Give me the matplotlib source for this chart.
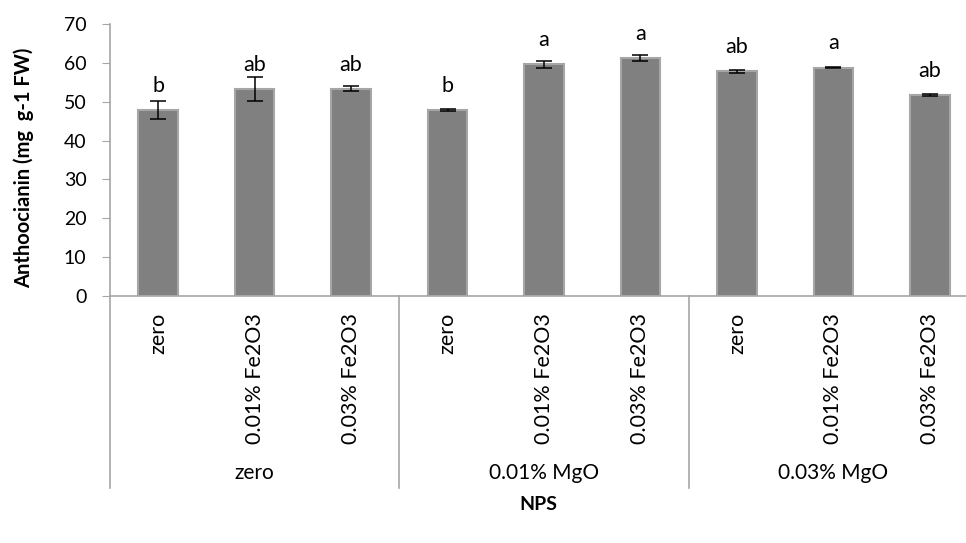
#!/usr/bin/env python3
"""Anthocyanin content under Fe2O3 / MgO nanoparticle treatments."""

import matplotlib.pyplot as plt
from matplotlib.transforms import blended_transform_factory

plt.rcParams['font.family'] = ['Lato', 'DejaVu Sans']

groups = ['zero', '0.01% MgO', '0.03% MgO']
treatments = ['zero', '0.01% Fe2O3', '0.03% Fe2O3']
means = [47.9, 53.3, 53.4, 47.9, 59.7, 61.2, 57.8, 58.8, 51.7]
errors = [2.3, 3.1, 0.6, 0.2, 0.9, 0.8, 0.3, 0.2, 0.2]
letters = ['b', 'ab', 'ab', 'b', 'a', 'a', 'ab', 'a', 'ab']

GRID = '#a6a6a6'

fig = plt.figure(figsize=(9.66, 5.43), dpi=100)
ax = fig.add_axes([110 / 966, 247 / 543, 868 / 966, 272 / 543])

x = list(range(len(means)))
ax.bar(x, means, width=0.41, color='#808080', edgecolor='#a6a6a6',
       linewidth=1.5, zorder=2)
ax.errorbar(x, means, yerr=errors, fmt='none', ecolor='black',
            elinewidth=1.1, capsize=5.5, capthick=1.1, zorder=3)

# letters sit a little above each error bar
gaps = [2.3, 1.6, 3.8, 4.5, 3.8, 4.0, 4.4, 4.6, 4.4]
for xi, m, e, g, lab in zip(x, means, errors, gaps, letters):
    ax.text(xi, m + e + g, lab, ha='center', va='baseline', fontsize=15.5)

ax.set_xlim(-0.5, len(means) - 0.5)
ax.set_ylim(0, 70)
ax.set_yticks(range(0, 71, 10))
ax.tick_params(axis='y', labelsize=14, length=6, color=GRID, pad=11)
ax.set_xticks([])

for side in ('top', 'right'):
    ax.spines[side].set_visible(False)
for side in ('left', 'bottom'):
    ax.spines[side].set_color(GRID)
    ax.spines[side].set_linewidth(1.2)

trans = blended_transform_factory(ax.transData, ax.transAxes)

# inner category labels
for i in x:
    ax.text(i, -0.062, treatments[i % 3], rotation=90, ha='center', va='top',
            fontsize=15.5, transform=trans)

# group dividers and outer labels
for b in range(len(groups) + 1):
    ax.plot([b * 3 - 0.5] * 2, [0, -0.706], color=GRID, linewidth=1.2,
            transform=trans, clip_on=False)
for gi, name in enumerate(groups):
    ax.text(gi * 3 + 1, -0.651, name, ha='center', va='center',
            fontsize=15, transform=trans)

ax.set_ylabel('Anthoocianin (mg  g-1 FW)', fontsize=14.5, fontweight='bold')
ax.yaxis.set_label_coords(-0.088, 0.47)
fig.text(0.557, 0.07, 'NPS', ha='center', va='center', fontsize=14,
         fontweight='bold')

fig.savefig('out.png', dpi=100)
